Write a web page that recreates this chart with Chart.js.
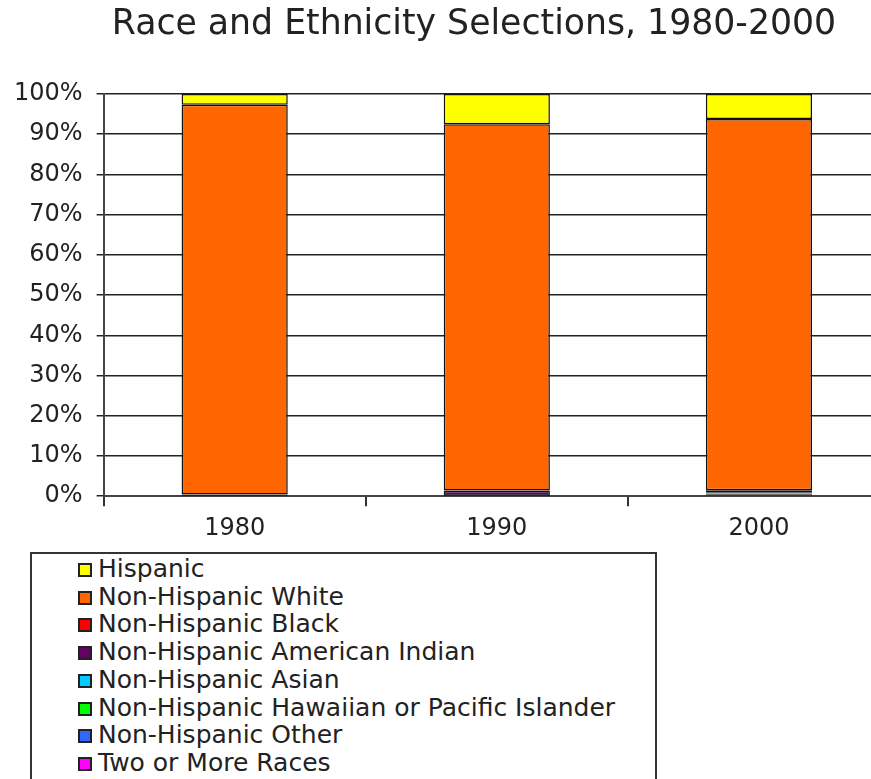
<!DOCTYPE html>
<html>
<head>
<meta charset="utf-8">
<script src="https://cdn.jsdelivr.net/npm/chart.js@4.4.0/dist/chart.umd.min.js"></script>
<style>
  html, body { margin: 0; padding: 0; background: #fff; overflow: hidden; }
  #title {
    position: absolute; left: 274px; top: 2px; width: 400px; text-align: center; white-space: nowrap;
    font-family: "DejaVu Sans", Verdana, sans-serif; font-size: 34.7px; color: #222; line-height: 40px;
  }
  #title span { display: inline-block; margin-left: -200px; margin-right: -200px; }
  #wrap { position: absolute; left: 0; top: 0; width: 890px; height: 551px; }
  #legend {
    position: absolute; left: 30px; top: 552px; width: 623px; height: 240px;
    border: 2px solid #333; font-family: "DejaVu Sans", Verdana, sans-serif;
    font-size: 25px; color: #222;
  }
  #legend .item { position: absolute; left: 46px; height: 28px; line-height: 28px; white-space: nowrap; }
  #legend .sw { display: inline-block; width: 10px; height: 10px; border: 2px solid #222; margin-right: 6px; vertical-align: 0px; }
</style>
</head>
<body>
<div id="wrap"><canvas id="myChart" width="890" height="551"></canvas></div>
<div id="title"><span>Race and Ethnicity Selections, 1980-2000</span></div>
<div id="legend"></div>
<script>
// Categories (census years)
var years = ['1980', '1990', '2000'];

// Series, bottom of the stack first
var seriesNames = ['Two or More Races', 'Non-Hispanic Other', 'Non-Hispanic Hawaiian or Pacific Islander',
  'Non-Hispanic Asian', 'Non-Hispanic American Indian', 'Non-Hispanic Black', 'Non-Hispanic White', 'Hispanic'];
var seriesColors = ['#ff00ff', '#3366ff', '#00ff00', '#00ccff', '#660066', '#ff0000', '#ff6600', '#ffff00'];

// Percent values per series (same order as seriesNames), null = not asked that year
var twoOrMore = [null, null, 0.5];
var other = [null, null, 0.1];
var hawaiian = [null, null, 0.1];
var asian = [0.1, 0.1, 0.3];
var amIndian = [0.2, 1.2, 0.3];
var black = [0.1, 0.1, 0.2];
var white = [96.9, 91.1, 92.3];
var hispanic = [2.7, 7.5, 6.2];
var seriesValues = [twoOrMore, other, hawaiian, asian, amIndian, black, white, hispanic];

var yTicks = [0, 10, 20, 30, 40, 50, 60, 70, 80, 90, 100];

var fontFam = '"DejaVu Sans", Verdana, sans-serif';
var ink = '#222';

var datasets = [];
for (var i = 0; i < seriesNames.length; i++) {
  datasets.push({
    label: seriesNames[i],
    data: seriesValues[i],
    backgroundColor: seriesColors[i],
    borderColor: '#111',
    // very thin slices read as dark bands in the original
    borderWidth: function (c) { return c.raw !== null && c.raw <= 0.5 ? 2 : 1.5; },
    borderSkipped: false,
    barPercentage: 0.405,
    categoryPercentage: 1
  });
}

var ctx = document.getElementById('myChart').getContext('2d');
var chart = new Chart(ctx, {
  type: 'bar',
  data: { labels: years, datasets: datasets },
  options: {
    responsive: false,
    animation: false,
    layout: { padding: { left: 0, top: 94, right: 0, bottom: 0 } },
    plugins: {
      legend: { display: false },
      tooltip: { enabled: false }
    },
    scales: {
      x: {
        stacked: true,
        grid: { offset: true, drawOnChartArea: false, color: '#333', lineWidth: 2, tickLength: 10 },
        border: { color: '#444', width: 2 },
        ticks: { color: ink, font: { family: fontFam, size: 24 }, padding: 8 }
      },
      y: {
        stacked: true,
        min: 0,
        max: 100,
        afterBuildTicks: function (axis) {
          axis.ticks = yTicks.map(function (v) { return { value: v }; });
        },
        grid: { color: '#222', lineWidth: 1.5, tickLength: 7 },
        border: { color: '#444', width: 2 },
        ticks: {
          color: ink,
          font: { family: fontFam, size: 24 },
          padding: 14,
          callback: function (v) { return v + '%'; }
        }
      }
    }
  }
});

// Legend box, listed top of stack first
var legendEl = document.getElementById('legend');
for (var j = seriesNames.length - 1, row = 0; j >= 0; j--, row++) {
  var item = document.createElement('div');
  item.className = 'item';
  item.style.top = (1 + row * 27.7) + 'px';
  item.innerHTML = '<span class="sw" style="background:' + seriesColors[j] + '"></span>' + seriesNames[j];
  legendEl.appendChild(item);
}
</script>
</body>
</html>
